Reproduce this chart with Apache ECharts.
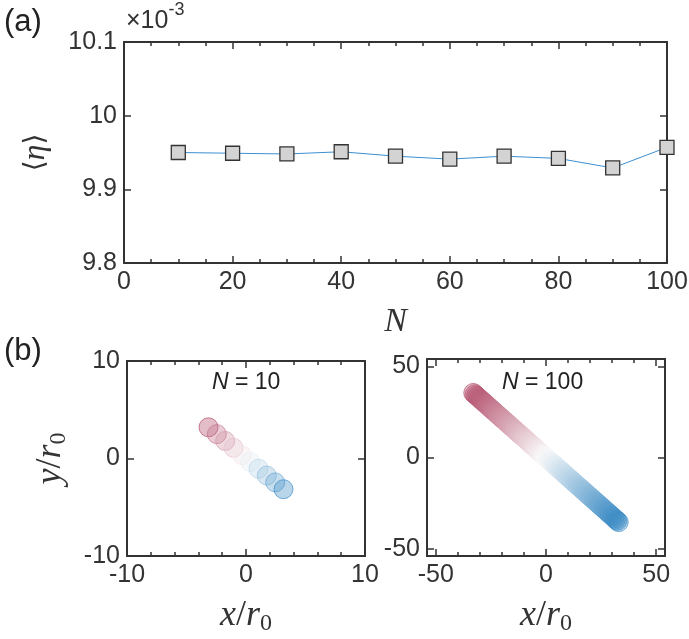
<!DOCTYPE html>
<html>
<head>
<meta charset="utf-8">
<script src="https://cdn.jsdelivr.net/npm/echarts@6/dist/echarts.min.js"></script>
<style>
  html, body { margin: 0; padding: 0; background: #fff; }
  #chart { width: 689px; height: 639px; }
</style>
</head>
<body>
<div id="chart"></div>
<script>
// (a) mean efficiency vs N (values x 1e-3)
const nVals = [10, 20, 30, 40, 50, 60, 70, 80, 90, 100];
const etaVals = [9.950, 9.949, 9.948, 9.951, 9.945, 9.941, 9.945, 9.942, 9.929, 9.957];

// (b) particle positions, N = 10
const n10X = [-3.15, -2.45, -1.75, -1.05, -0.35, 0.35, 1.05, 1.75, 2.45, 3.15];
const n10Y = [3.2, 2.5, 1.8, 1.1, 0.35, -0.35, -1.05, -1.75, -2.45, -3.15];

// (b) particle positions, N = 100
const n100X = [
  -33.0, -32.3, -31.7, -31.0, -30.3, -29.7, -29.0, -28.3, -27.7, -27.0,
  -26.3, -25.7, -25.0, -24.3, -23.7, -23.0, -22.3, -21.7, -21.0, -20.3,
  -19.7, -19.0, -18.3, -17.7, -17.0, -16.3, -15.7, -15.0, -14.3, -13.7,
  -13.0, -12.3, -11.7, -11.0, -10.3, -9.7, -9.0, -8.3, -7.7, -7.0,
  -6.3, -5.7, -5.0, -4.3, -3.7, -3.0, -2.3, -1.7, -1.0, -0.3,
  0.3, 1.0, 1.7, 2.3, 3.0, 3.7, 4.3, 5.0, 5.7, 6.3,
  7.0, 7.7, 8.3, 9.0, 9.7, 10.3, 11.0, 11.7, 12.3, 13.0,
  13.7, 14.3, 15.0, 15.7, 16.3, 17.0, 17.7, 18.3, 19.0, 19.7,
  20.3, 21.0, 21.7, 22.3, 23.0, 23.7, 24.3, 25.0, 25.7, 26.3,
  27.0, 27.7, 28.3, 29.0, 29.7, 30.3, 31.0, 31.7, 32.3, 33.0
];
const n100Y = [
  35.4, 34.7, 34.0, 33.3, 32.5, 31.8, 31.1, 30.4, 29.7, 29.0,
  28.2, 27.5, 26.8, 26.1, 25.4, 24.7, 23.9, 23.2, 22.5, 21.8,
  21.1, 20.4, 19.7, 18.9, 18.2, 17.5, 16.8, 16.1, 15.4, 14.7,
  13.9, 13.2, 12.5, 11.8, 11.1, 10.4, 9.7, 8.9, 8.2, 7.5,
  6.8, 6.1, 5.4, 4.6, 3.9, 3.2, 2.5, 1.8, 1.1, 0.4,
  -0.4, -1.1, -1.8, -2.5, -3.2, -3.9, -4.6, -5.4, -6.1, -6.8,
  -7.5, -8.2, -8.9, -9.7, -10.4, -11.1, -11.8, -12.5, -13.2, -13.9,
  -14.7, -15.4, -16.1, -16.8, -17.5, -18.2, -18.9, -19.7, -20.4, -21.1,
  -21.8, -22.5, -23.2, -23.9, -24.7, -25.4, -26.1, -26.8, -27.5, -28.2,
  -29.0, -29.7, -30.4, -31.1, -31.8, -32.5, -33.3, -34.0, -34.7, -35.4
];

// tick values for the N = 100 panel
const bigMajor = [-50, 0, 50];
const bigMinor = [-40, -30, -20, -10, 10, 20, 30, 40];

const chart = echarts.init(document.getElementById('chart'));

const ink = '#333';
const sans = 'Liberation Sans';
const serif = 'Liberation Serif';
const labelStyle = { color: ink, fontFamily: sans, fontSize: 25 };

// red -> white -> blue along the chain
const red = [178, 76, 106];
const white = [250, 250, 250];
const blue = [58, 138, 196];
function chainColor(t, a) {
  let c;
  if (t < 0.5) {
    const s = t / 0.5;
    c = red.map((v, k) => Math.round(v + (white[k] - v) * s));
  } else {
    const s = (t - 0.5) / 0.5;
    c = white.map((v, k) => Math.round(v + (blue[k] - v) * s));
  }
  return 'rgba(' + c[0] + ',' + c[1] + ',' + c[2] + ',' + a + ')';
}
function chainData(xs, ys) {
  return xs.map((x, i) => {
    const t = i / (xs.length - 1);
    return {
      value: [x, ys[i]],
      itemStyle: { color: chainColor(t, 0.45), borderColor: chainColor(t, 0.85), borderWidth: 1 }
    };
  });
}

const lineSt = { color: ink, width: 2 };
const tickSt = { color: ink, width: 1.5 };
function axis(extra) {
  return Object.assign({
    type: 'value',
    splitLine: { show: false },
    axisLine: { show: true, onZero: false, lineStyle: lineSt },
    axisTick: { show: true, inside: true, length: 7, lineStyle: tickSt },
    axisLabel: Object.assign({ show: true, margin: 7 }, labelStyle)
  }, extra);
}
const noLabel = { show: false };
const hiddenLine = { show: false, onZero: false };

const mathRich = {
  i: { fontFamily: serif, fontStyle: 'italic', fontSize: 36, color: ink },
  n: { fontFamily: serif, fontSize: 36, color: ink },
  s: { fontFamily: serif, fontSize: 24, color: ink, padding: [16, 0, 0, 0] }
};
const xName = {
  name: '{i|x}{n|/}{i|r}{s|0}',
  nameLocation: 'middle',
  nameGap: 40,
  nameTextStyle: { rich: mathRich }
};

const option = {
  animation: false,
  grid: [
    { left: 124, width: 543, top: 42, height: 221, outerBoundsMode: 'none' },
    { left: 127, width: 238, top: 361, height: 195, outerBoundsMode: 'none' },
    { left: 427, width: 238, top: 359, height: 197, outerBoundsMode: 'none' }
  ],
  xAxis: [
    axis({
      gridIndex: 0, position: 'bottom', min: 0, max: 100, interval: 20,
      minorTick: { show: true, splitNumber: 4, length: 4, lineStyle: tickSt },
      name: 'N', nameLocation: 'middle', nameGap: 42,
      nameTextStyle: { fontFamily: serif, fontStyle: 'italic', fontSize: 34, color: ink }
    }),
    axis({
      gridIndex: 0, position: 'top', min: 0, max: 100, interval: 20, axisLabel: noLabel,
      minorTick: { show: true, splitNumber: 4, length: 4, lineStyle: tickSt }
    }),
    axis(Object.assign({
      gridIndex: 1, position: 'bottom', min: -10, max: 10, interval: 10,
      minorTick: { show: true, splitNumber: 5, length: 4, lineStyle: tickSt }
    }, xName)),
    axis({
      gridIndex: 1, position: 'top', min: -10, max: 10, interval: 10, axisLabel: noLabel,
      minorTick: { show: true, splitNumber: 5, length: 4, lineStyle: tickSt }
    }),
    axis(Object.assign({
      gridIndex: 2, position: 'bottom', min: -54, max: 54,
      axisTick: { show: true, inside: true, length: 7, customValues: bigMajor, lineStyle: tickSt },
      axisLabel: Object.assign({ show: true, margin: 7, customValues: bigMajor }, labelStyle)
    }, xName)),
    axis({
      gridIndex: 2, position: 'top', min: -54, max: 54, axisLabel: noLabel,
      axisTick: { show: true, inside: true, length: 7, customValues: bigMajor, lineStyle: tickSt }
    }),
    axis({
      gridIndex: 2, position: 'bottom', min: -54, max: 54, axisLabel: noLabel,
      axisLine: hiddenLine,
      axisTick: { show: true, inside: true, length: 4, customValues: bigMinor, lineStyle: tickSt }
    }),
    axis({
      gridIndex: 2, position: 'top', min: -54, max: 54, axisLabel: noLabel,
      axisLine: hiddenLine,
      axisTick: { show: true, inside: true, length: 4, customValues: bigMinor, lineStyle: tickSt }
    })
  ],
  yAxis: [
    axis({
      gridIndex: 0, position: 'left', min: 9.8, max: 10.1, interval: 0.1,
      name: '{b|\u27E8}{i|\u03B7}{b|\u27E9}', nameLocation: 'middle', nameGap: 72, nameRotate: 90,
      nameTextStyle: {
        rich: {
          b: { fontFamily: 'DejaVu Serif', fontSize: 28, color: ink },
          i: { fontFamily: serif, fontStyle: 'italic', fontSize: 32, color: ink }
        }
      }
    }),
    axis({ gridIndex: 0, position: 'right', min: 9.8, max: 10.1, interval: 0.1, axisLabel: noLabel }),
    axis({
      gridIndex: 1, position: 'left', min: -10, max: 10, interval: 10,
      name: '{i|y}{n|/}{i|r}{s|0}', nameLocation: 'middle', nameGap: 56, nameRotate: 90,
      nameTextStyle: { rich: mathRich }
    }),
    axis({ gridIndex: 1, position: 'right', min: -10, max: 10, interval: 10, axisLabel: noLabel }),
    axis({
      gridIndex: 2, position: 'left', min: -54, max: 54,
      axisTick: { show: true, inside: true, length: 7, customValues: bigMajor, lineStyle: tickSt },
      axisLabel: Object.assign({ show: true, margin: 7, customValues: bigMajor }, labelStyle)
    }),
    axis({
      gridIndex: 2, position: 'right', min: -54, max: 54, axisLabel: noLabel,
      axisTick: { show: true, inside: true, length: 7, customValues: bigMajor, lineStyle: tickSt }
    })
  ],
  series: [
    {
      type: 'line',
      xAxisIndex: 0, yAxisIndex: 0,
      data: nVals.map((n, i) => [n, etaVals[i]]),
      symbol: 'rect', symbolSize: 14,
      lineStyle: { color: '#3b8ed0', width: 1 },
      itemStyle: { color: '#d3d3d3', borderColor: '#333', borderWidth: 1.3 },
      z: 3
    },
    {
      type: 'scatter',
      xAxisIndex: 2, yAxisIndex: 2,
      symbolSize: 19,
      data: chainData(n10X, n10Y)
    },
    {
      type: 'scatter',
      xAxisIndex: 4, yAxisIndex: 4,
      symbolSize: 19,
      data: chainData(n100X, n100Y)
    }
  ],
  graphic: [
    { type: 'text', left: 4, top: 7, style: { text: '(a)', font: '31px "Liberation Sans"', fill: '#222' } },
    { type: 'text', left: 4, top: 336, style: { text: '(b)', font: '31px "Liberation Sans"', fill: '#222' } },
    {
      type: 'text', left: 126, top: 1,
      style: {
        text: '{m|\u00D710}{s|-3}',
        rich: {
          m: { fontFamily: sans, fontSize: 25, fill: ink, padding: [12, 0, 0, 0] },
          s: { fontFamily: sans, fontSize: 18, fill: ink, padding: [0, 0, 10, 0] }
        }
      }
    },
    {
      type: 'text', left: 212, top: 371,
      style: {
        text: '{i|N} = 10',
        font: '23px "Liberation Sans"', fill: '#222',
        rich: { i: { fontFamily: sans, fontStyle: 'italic', fontSize: 23, fill: '#222' } }
      }
    },
    {
      type: 'text', left: 502, top: 371,
      style: {
        text: '{i|N} = 100',
        font: '23px "Liberation Sans"', fill: '#222',
        rich: { i: { fontFamily: sans, fontStyle: 'italic', fontSize: 23, fill: '#222' } }
      }
    }
  ]
};

chart.setOption(option);
</script>
</body>
</html>
